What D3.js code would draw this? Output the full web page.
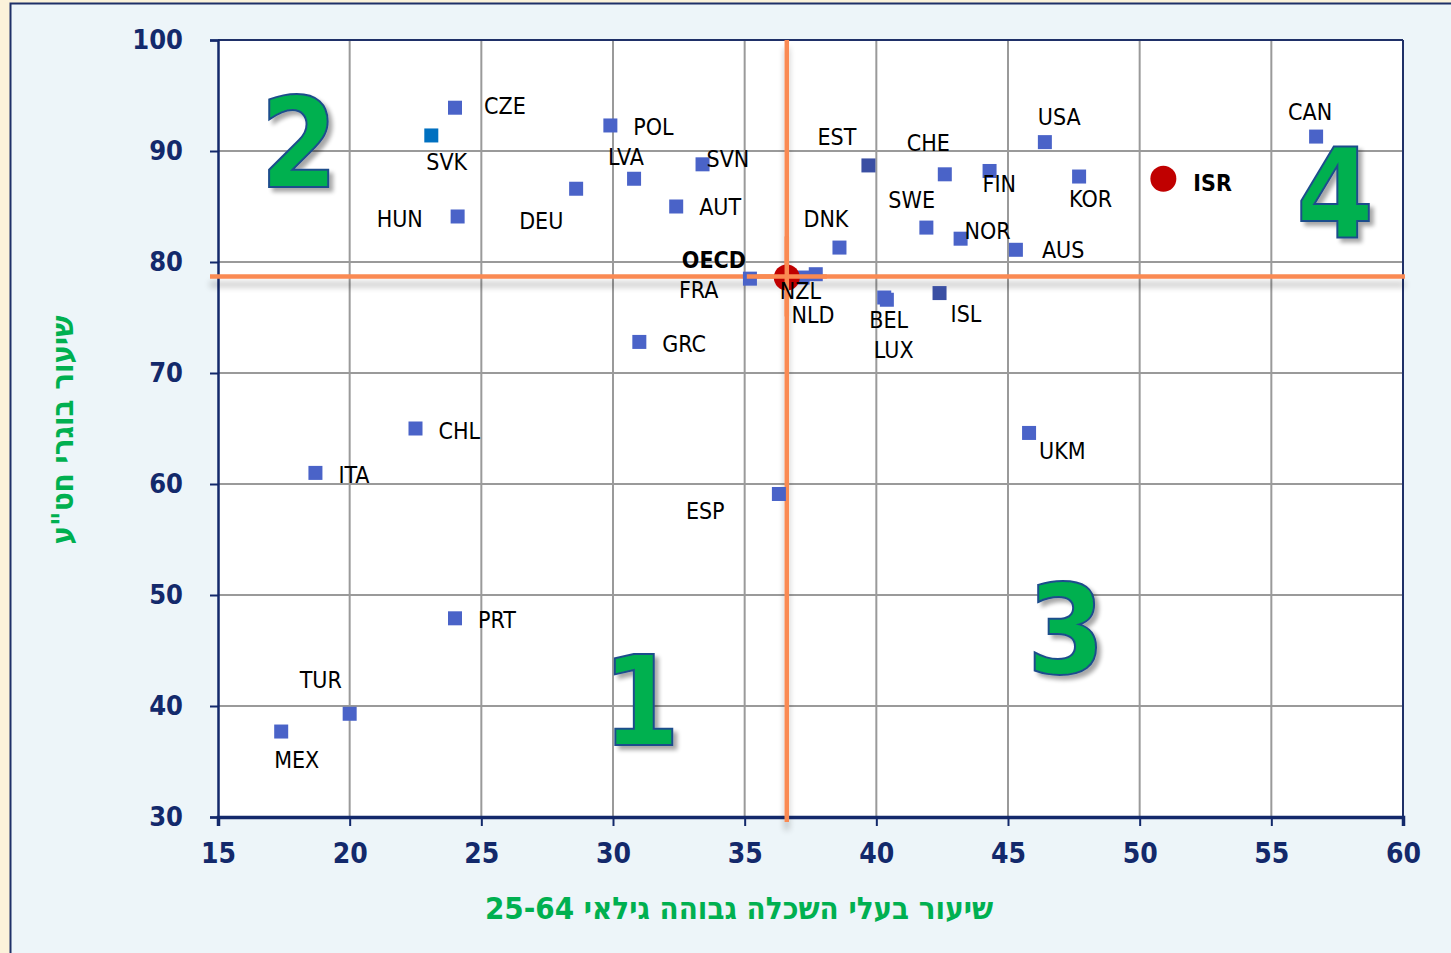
<!DOCTYPE html>
<html>
<head>
<meta charset="utf-8">
<script src="https://cdn.jsdelivr.net/npm/d3@7"></script>
<style>
  html, body { margin: 0; padding: 0; background: #FBF2DA; }
  svg { display: block; }
</style>
</head>
<body>
<svg id="chart" width="1451" height="953"></svg>
<script>
// ---------------- DATA ----------------
const countries = ["CZE","SVK","HUN","DEU","POL","LVA","SVN","AUT","FRA","GRC","EST","CHE","FIN","USA","KOR","SWE","NOR","AUS","DNK","NZL","NLD","BEL","LUX","ISL","UKM","CAN","ESP","CHL","ITA","PRT","TUR","MEX"];
const higherEdu = [24.0,23.1,24.1,28.6,29.9,30.8,33.4,32.4,35.2,31.0,39.7,42.6,44.3,46.4,47.7,41.9,43.2,45.3,38.6,37.7,37.2,40.3,40.4,42.4,45.8,56.7,36.3,22.5,18.7,24.0,20.0,17.4];
const secondaryGrad = [93.9,91.4,84.1,86.6,92.3,87.5,88.8,85.0,78.5,72.8,88.7,87.9,88.2,90.8,87.7,83.1,82.1,81.1,81.3,78.9,78.6,76.8,76.6,77.2,64.6,91.3,59.1,65.0,61.0,47.9,39.3,37.7];
const highlightNames = ["OECD","ISR"];
const highlightX = [36.6, 50.9];
const highlightY = [78.6, 87.5];
const oecdAvgX = 36.6;
const oecdAvgY = 78.7;
const xTicks = [15,20,25,30,35,40,45,50,55,60];
const yTicks = [30,40,50,60,70,80,90,100];
const quadrantLabels = ["1","2","3","4"];
const xTitle = "שיעור בעלי השכלה גבוהה גילאי 25-64";
const yTitle = "שיעור בוגרי חט\"ע";

// ---------------- LAYOUT (label offsets in px, not data) ----------------
const labelOffset = {
  CZE:[29,6], SVK:[-5,35], HUN:[-81,11], DEU:[-57,40], POL:[23,10], LVA:[-26,-14],
  SVN:[4,3], AUT:[23,8], FRA:[-71,19], GRC:[23,10], EST:[-51,-20], CHE:[-38,-23],
  FIN:[-7,21], USA:[-7,-17], KOR:[-10,30], SWE:[-38,-20], NOR:[4,0], AUS:[26,8],
  DNK:[-36,-21], NZL:[-36,25], NLD:[-11,45], BEL:[-15,30], LUX:[-13,58], ISL:[11,29],
  UKM:[10,26], CAN:[-28,-17], ESP:[-93,25], CHL:[23,10], ITA:[23,10], PRT:[23,10],
  TUR:[-50,-26], MEX:[-7,36], OECD:[-105,-10], ISR:[30,12]
};
const quadPos = { "1":[641,745], "2":[299,187], "3":[1066,673], "4":[1335,238] };
const squareColor = { SVK:"#0070C0", EST:"#3A4FA3", ISL:"#3A4FA3" };

// ---------------- DRAW ----------------
const svg = d3.select("#chart");
const defs = svg.append("defs");
const sh = defs.append("filter").attr("id","lineShadow").attr("x","-5%").attr("y","-100%").attr("width","110%").attr("height","400%");
sh.append("feGaussianBlur").attr("in","SourceAlpha").attr("stdDeviation",3).attr("result","b");
sh.append("feOffset").attr("in","b").attr("dx",0).attr("dy",8).attr("result","o");
sh.append("feComponentTransfer").attr("in","o").attr("result","o2")
  .append("feFuncA").attr("type","linear").attr("slope",0.25);
const m1 = sh.append("feMerge"); m1.append("feMergeNode").attr("in","o2"); m1.append("feMergeNode").attr("in","SourceGraphic");

const qs = defs.append("filter").attr("id","quadShadow").attr("x","-20%").attr("y","-20%").attr("width","150%").attr("height","150%");
qs.append("feGaussianBlur").attr("in","SourceAlpha").attr("stdDeviation",2).attr("result","b");
qs.append("feOffset").attr("in","b").attr("dx",4).attr("dy",4).attr("result","o");
qs.append("feComponentTransfer").attr("in","o").attr("result","o2")
  .append("feFuncA").attr("type","linear").attr("slope",0.35);
const m2 = qs.append("feMerge"); m2.append("feMergeNode").attr("in","o2"); m2.append("feMergeNode").attr("in","SourceGraphic");

// panel
svg.append("rect").attr("x",10.5).attr("y",3.5).attr("width",1460).attr("height",970)
  .attr("fill","#EDF5F9").attr("stroke","#1F3068").attr("stroke-width",2);

const L = 218, R = 1403, T = 40, B = 817;
const x = d3.scaleLinear().domain([15,60]).range([L,R]);
const y = d3.scaleLinear().domain([30,100]).range([B,T]);

svg.append("rect").attr("x",L).attr("y",T).attr("width",R-L).attr("height",B-T).attr("fill","#FFFFFF");

// grid
const grid = svg.append("g");
grid.selectAll("line.gx").data(xTicks.slice(1,-1)).join("line")
  .attr("x1",d=>x(d)).attr("x2",d=>x(d)).attr("y1",T).attr("y2",B)
  .attr("stroke","#9A9A9A").attr("stroke-width",2);
grid.selectAll("line.gy").data(yTicks.slice(1,-1)).join("line")
  .attr("x1",L).attr("x2",R).attr("y1",d=>y(d)).attr("y2",d=>y(d))
  .attr("stroke","#9A9A9A").attr("stroke-width",2);

// frame top/right
svg.append("line").attr("x1",L).attr("x2",R).attr("y1",T).attr("y2",T).attr("stroke","#1F3068").attr("stroke-width",2);
svg.append("line").attr("x1",R).attr("x2",R).attr("y1",T).attr("y2",B).attr("stroke","#1F3068").attr("stroke-width",2);

// axes
const navy = "#13296B";
const tickFont = "'DejaVu Sans Condensed','DejaVu Sans',sans-serif";
const yAxis = svg.append("g").attr("transform",`translate(${L},0)`)
  .call(d3.axisLeft(y).tickValues(yTicks).tickSize(8).tickPadding(27).tickFormat(d3.format("d")));
const xAxis = svg.append("g").attr("transform",`translate(0,${B})`)
  .call(d3.axisBottom(x).tickValues(xTicks).tickSize(9).tickPadding(17).tickFormat(d3.format("d")));
[yAxis, xAxis].forEach(g => {
  g.selectAll("path.domain").attr("stroke",navy);
  g.selectAll(".tick line").attr("stroke",navy).attr("stroke-width",2);
  g.selectAll(".tick text").attr("fill",navy).style("font-family",tickFont)
    .style("font-stretch","condensed").style("font-weight","bold").style("font-size","27px");
});
xAxis.selectAll(".tick text").style("font-size","28px");
yAxis.select("path.domain").attr("stroke-width",2.5);
xAxis.select("path.domain").attr("stroke-width",3.5);

// orange average lines
const avg = svg.append("g").attr("filter","url(#lineShadow)");
avg.append("line").attr("x1",L-8).attr("x2",R+2).attr("y1",y(oecdAvgY)).attr("y2",y(oecdAvgY))
  .attr("stroke","#FA8A52").attr("stroke-width",4.5);
avg.append("line").attr("x1",x(oecdAvgX)).attr("x2",x(oecdAvgX)).attr("y1",T).attr("y2",B+5)
  .attr("stroke","#FA8A52").attr("stroke-width",4.5);

// quadrant numbers
svg.append("g").selectAll("text").data(quadrantLabels).join("text")
  .attr("x",d=>quadPos[d][0]).attr("y",d=>quadPos[d][1])
  .attr("text-anchor","middle")
  .style("font-family","'DejaVu Sans Condensed','DejaVu Sans',sans-serif").style("font-stretch","condensed")
  .style("font-weight","bold").style("font-size","124px")
  .attr("fill","#00B050").attr("stroke","#1F4E8C").attr("stroke-width",2)
  .attr("filter","url(#quadShadow)")
  .text(d=>d);

// points
const pts = countries.map((c,i)=>({name:c, x:higherEdu[i], y:secondaryGrad[i]}));
const sz = 14;
svg.append("g").selectAll("rect").data(pts).join("rect")
  .attr("x",d=>x(d.x)-sz/2).attr("y",d=>y(d.y)-sz/2).attr("width",sz).attr("height",sz)
  .attr("fill",d=>squareColor[d.name] || "#4A63C8");

const hl = highlightNames.map((n,i)=>({name:n, x:highlightX[i], y:highlightY[i]}));
svg.append("g").selectAll("circle").data(hl).join("circle")
  .attr("cx",d=>x(d.x)).attr("cy",d=>y(d.y)).attr("r",13).attr("fill","#C00000");

// orange lines drawn again over the OECD circle (as in reference)
const avg2 = svg.append("g");
avg2.append("line").attr("x1",x(oecdAvgX)-40).attr("x2",x(oecdAvgX)+40).attr("y1",y(oecdAvgY)).attr("y2",y(oecdAvgY))
  .attr("stroke","#FA8A52").attr("stroke-width",4.5);
avg2.append("line").attr("x1",x(oecdAvgX)).attr("x2",x(oecdAvgX)).attr("y1",y(oecdAvgY)-40).attr("y2",y(oecdAvgY)+40)
  .attr("stroke","#FA8A52").attr("stroke-width",4.5);

// labels
const labFont = "'DejaVu Sans Condensed','DejaVu Sans',sans-serif";
svg.append("g").selectAll("text").data(pts.concat(hl)).join("text")
  .attr("x",d=>x(d.x)+labelOffset[d.name][0]).attr("y",d=>y(d.y)+labelOffset[d.name][1])
  .style("font-family",labFont).style("font-stretch","condensed").style("font-size","23px")
  .style("font-weight",d=>highlightNames.includes(d.name)?"bold":"normal")
  .attr("fill","#000").text(d=>d.name);

// axis titles
svg.append("text").attr("x",739).attr("y",919).attr("text-anchor","middle")
  .attr("direction","rtl")
  .style("font-family",labFont).style("font-stretch","condensed").style("font-weight","bold").style("font-size","31px")
  .attr("fill","#00B050").text(xTitle);
svg.append("text").attr("transform","translate(73,430) rotate(-90)").attr("text-anchor","middle")
  .attr("direction","rtl")
  .style("font-family",labFont).style("font-stretch","condensed").style("font-weight","bold").style("font-size","31px")
  .attr("fill","#00B050").text(yTitle);
</script>
</body>
</html>
